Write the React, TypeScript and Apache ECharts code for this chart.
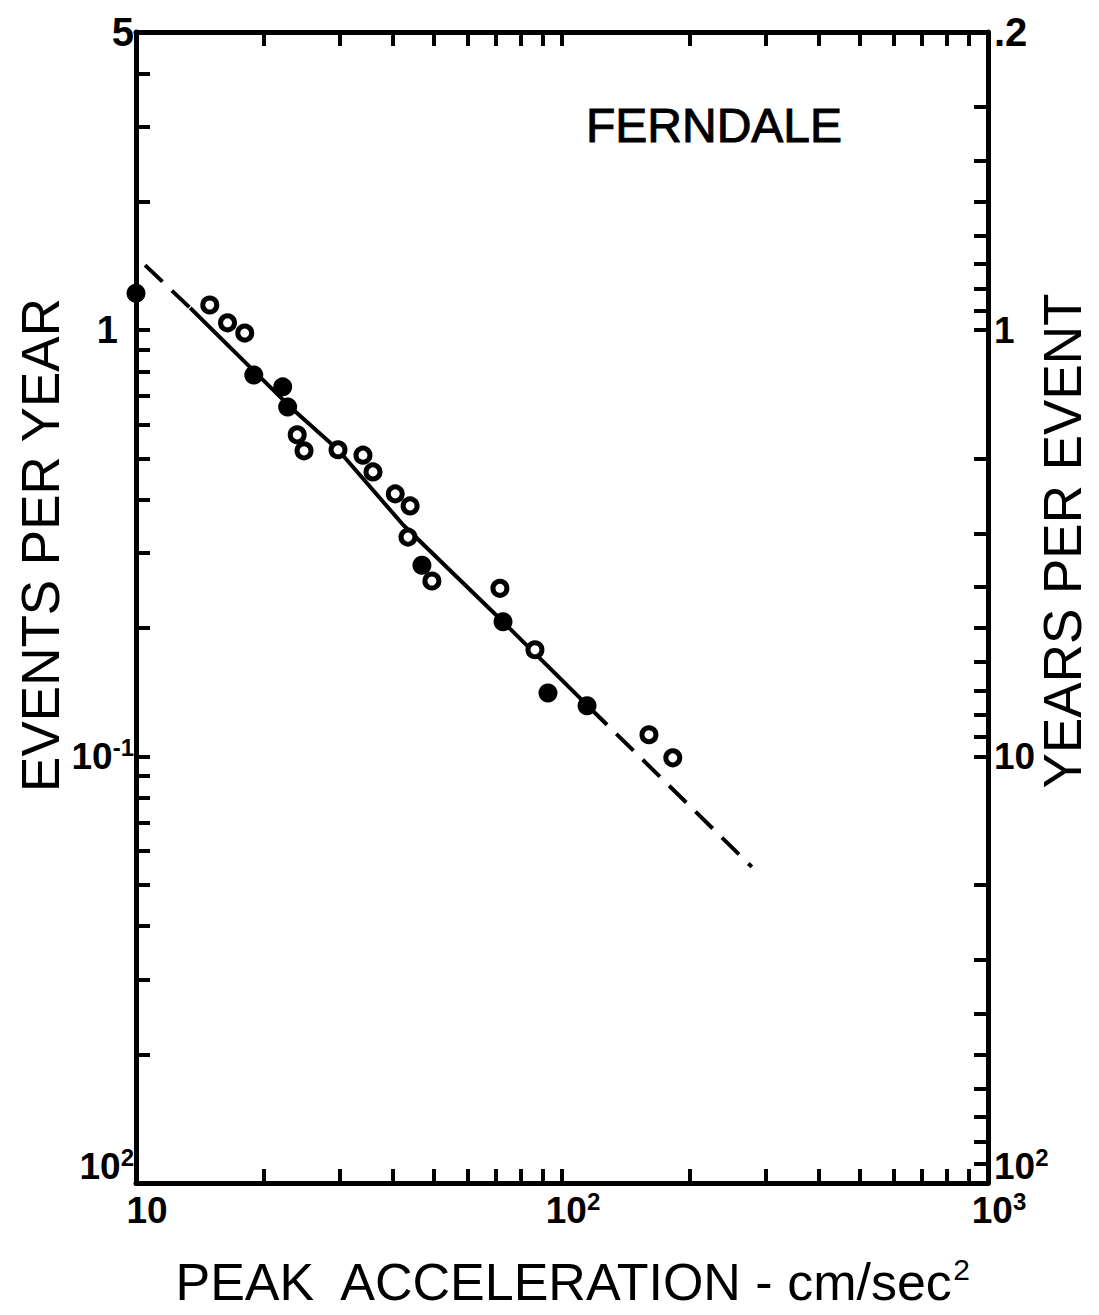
import React, { useEffect, useRef } from 'react';
import * as echarts from 'echarts';

// ---- axis ranges (real units) ----
const X_MIN = 10;
const X_MAX = 1000;
const Y_MIN = 0.01;
const Y_MAX = 5;

// ---- tick positions ----
const X_TICKS = [20, 30, 40, 50, 60, 70, 80, 90, 100, 200, 300, 400, 500, 600, 700, 800, 900];
const Y_LEFT_TICKS = [0.02, 0.03, 0.04, 0.05, 0.06, 0.07, 0.08, 0.09, 0.1, 0.2, 0.3, 0.4, 0.5, 0.6, 0.7, 0.8, 0.9, 1, 2, 3, 4];
const Y_RIGHT_TICK_YEARS = [0.3, 0.4, 0.5, 0.6, 0.7, 0.8, 0.9, 1, 2, 3, 4, 5, 6, 7, 8, 9, 10, 20, 30, 40, 50, 60, 70, 80, 90];

// ---- tick labels ----
const X_LABEL_VALUES = [10, 100, 1000];
const X_LABEL_TEXTS = ['{b|10}', '{b|10}{s|2}', '{b|10}{s|3}'];
const Y_LEFT_LABEL_VALUES = [5, 1, 0.1, 0.01];
const Y_LEFT_LABEL_TEXTS = ['{big|5}', '{one|1}', '{b|10}{s|-1}', '{b|10}{s|2}\n{gap| }'];
const Y_RIGHT_LABEL_VALUES = [5, 1, 0.1, 0.01];
const Y_RIGHT_LABEL_TEXTS = ['{big|.2}', '{b|1}', '{b|10}', '{b|10}{s|2}\n{gap| }'];

// ---- data: peak acceleration (cm/sec^2) vs events per year ----
const FILLED_ACCEL = [10, 18.9, 22.1, 22.7, 46.9, 72.7, 92.7, 114.5];
const FILLED_RATE = [1.22, 0.785, 0.736, 0.66, 0.281, 0.207, 0.141, 0.1315];

const OPEN_ACCEL = [14.9, 16.4, 18.0, 23.9, 24.8, 29.8, 34.1, 36.0, 40.6, 44.0, 43.5, 49.5, 71.5, 86.4, 160, 182];
const OPEN_RATE = [1.145, 1.04, 0.984, 0.568, 0.521, 0.524, 0.509, 0.465, 0.413, 0.387, 0.327, 0.258, 0.248, 0.178, 0.1125, 0.0993];

// fitted line: dashed extrapolations and solid central part
const FIT_LOW_ACCEL = [10.5, 13.4];
const FIT_LOW_RATE = [1.42, 1.127];
const FIT_MID_ACCEL = [13.4, 23.4, 29.8, 42.4, 72.7, 116.3];
const FIT_MID_RATE = [1.127, 0.65, 0.524, 0.349, 0.207, 0.13];
const FIT_HIGH_ACCEL = [116.3, 279];
const FIT_HIGH_RATE = [0.13, 0.0551];

const TITLE_FONT = "'Liberation Sans', Arial, sans-serif";
const LABEL_FONT = "'Liberation Sans', Arial, sans-serif";

const lg = (v: number) => Math.log10(v);
const pairs = (xs: number[], ys: number[]) => xs.map((x, i) => [lg(x), lg(ys[i])]);
const labelFor = (values: number[], texts: string[]) => (v: number) => {
  const i = values.findIndex((t) => Math.abs(lg(t) - v) < 1e-6);
  return i >= 0 ? texts[i] : '';
};

const rich = {
  b: { fontSize: 37, fontWeight: 'bold', fontFamily: LABEL_FONT, color: '#000', lineHeight: 42 },
  big: { fontSize: 40, fontWeight: 'bold', fontFamily: LABEL_FONT, color: '#000', lineHeight: 42 },
  one: { fontSize: 38, fontWeight: 'bold', fontFamily: LABEL_FONT, color: '#000', lineHeight: 42, padding: [0, 16, 0, 0] },
  s: { fontSize: 24, fontWeight: 'bold', fontFamily: LABEL_FONT, color: '#000', lineHeight: 24, verticalAlign: 'top' },
  gap: { fontSize: 10, lineHeight: 34 },
};

const AXIS_LINE = { show: true, onZero: false, lineStyle: { color: '#000', width: 5 } };
const tickStyle = (values: number[]) => ({
  show: true,
  inside: true,
  length: 14,
  lineStyle: { color: '#000', width: 4 },
  customValues: values,
});

export default function App() {
  const ref = useRef<HTMLDivElement>(null);

  useEffect(() => {
    if (!ref.current) return;
    const chart = echarts.init(ref.current, null, { renderer: 'svg' });

    const xTickVals = X_TICKS.map(lg);
    const option: any = {
      animation: false,
      backgroundColor: '#fff',
      grid: { left: 136, right: 111, top: 32, bottom: 132, containLabel: false },
      xAxis: [
        {
          type: 'value',
          position: 'bottom',
          min: lg(X_MIN),
          max: lg(X_MAX),
          axisLine: AXIS_LINE,
          axisTick: tickStyle(xTickVals),
          splitLine: { show: false },
          axisLabel: {
            show: true,
            margin: 6,
            padding: [0, 0, 0, 22],
            customValues: X_LABEL_VALUES.map(lg),
            formatter: labelFor(X_LABEL_VALUES, X_LABEL_TEXTS),
            rich,
          },
        },
        {
          type: 'value',
          position: 'top',
          min: lg(X_MIN),
          max: lg(X_MAX),
          axisLine: AXIS_LINE,
          axisTick: tickStyle(xTickVals),
          splitLine: { show: false },
          axisLabel: { show: false },
        },
      ],
      yAxis: [
        {
          type: 'value',
          position: 'left',
          min: lg(Y_MIN),
          max: lg(Y_MAX),
          axisLine: AXIS_LINE,
          axisTick: tickStyle(Y_LEFT_TICKS.map(lg)),
          splitLine: { show: false },
          axisLabel: {
            show: true,
            margin: 2,
            customValues: Y_LEFT_LABEL_VALUES.map(lg),
            formatter: labelFor(Y_LEFT_LABEL_VALUES, Y_LEFT_LABEL_TEXTS),
            rich,
          },
        },
        {
          type: 'value',
          position: 'right',
          min: lg(Y_MIN),
          max: lg(Y_MAX),
          axisLine: AXIS_LINE,
          axisTick: tickStyle(Y_RIGHT_TICK_YEARS.map((y) => lg(1 / y))),
          splitLine: { show: false },
          axisLabel: {
            show: true,
            margin: 6,
            customValues: Y_RIGHT_LABEL_VALUES.map(lg),
            formatter: labelFor(Y_RIGHT_LABEL_VALUES, Y_RIGHT_LABEL_TEXTS),
            rich,
          },
        },
      ],
      graphic: [
        {
          type: 'text',
          x: 714,
          y: 125,
          style: { text: 'FERNDALE', fontSize: 48, fontFamily: TITLE_FONT, fill: '#000', align: 'center', verticalAlign: 'middle', stroke: '#000', lineWidth: 1 },
        },
        {
          type: 'text',
          x: 40,
          y: 545,
          rotation: Math.PI / 2,
          style: { text: 'EVENTS PER YEAR', fontSize: 53, fontFamily: TITLE_FONT, fill: '#000', align: 'center', verticalAlign: 'middle' },
        },
        {
          type: 'text',
          x: 1062,
          y: 541,
          rotation: Math.PI / 2,
          style: { text: 'YEARS PER EVENT', fontSize: 53, fontFamily: TITLE_FONT, fill: '#000', align: 'center', verticalAlign: 'middle' },
        },
        {
          type: 'text',
          x: 572,
          y: 1282,
          style: {
            text: '{m|PEAK  ACCELERATION - cm/sec}{s|2}',
            align: 'center',
            verticalAlign: 'middle',
            rich: {
              m: { fontSize: 52, fontFamily: TITLE_FONT, fill: '#000', lineHeight: 56 },
              s: { fontSize: 30, fontFamily: TITLE_FONT, fill: '#000', lineHeight: 30, verticalAlign: 'top' },
            },
          },
        },
      ],
      series: [
        {
          type: 'line',
          data: pairs(FIT_LOW_ACCEL, FIT_LOW_RATE),
          symbol: 'none',
          lineStyle: { color: '#000', width: 4, type: [24, 13] },
          z: 2,
        },
        {
          type: 'line',
          data: pairs(FIT_MID_ACCEL, FIT_MID_RATE),
          symbol: 'none',
          lineStyle: { color: '#000', width: 4 },
          z: 2,
        },
        {
          type: 'line',
          data: pairs(FIT_HIGH_ACCEL, FIT_HIGH_RATE),
          symbol: 'none',
          lineStyle: { color: '#000', width: 4, type: [24, 13] },
          z: 2,
        },
        {
          type: 'scatter',
          data: pairs(OPEN_ACCEL, OPEN_RATE),
          symbol: 'circle',
          symbolSize: 14,
          itemStyle: { color: '#fff', borderColor: '#000', borderWidth: 5, opacity: 1 },
          clip: false,
          z: 3,
        },
        {
          type: 'scatter',
          data: pairs(FILLED_ACCEL, FILLED_RATE),
          symbol: 'circle',
          symbolSize: 19,
          itemStyle: { color: '#000', opacity: 1 },
          clip: false,
          z: 4,
        },
      ],
    };

    chart.setOption(option);
    return () => chart.dispose();
  }, []);

  return (
    <div
      ref={ref}
      style={{ position: 'absolute', left: 0, top: 0, width: 1099, height: 1315, background: '#fff' }}
    />
  );
}
